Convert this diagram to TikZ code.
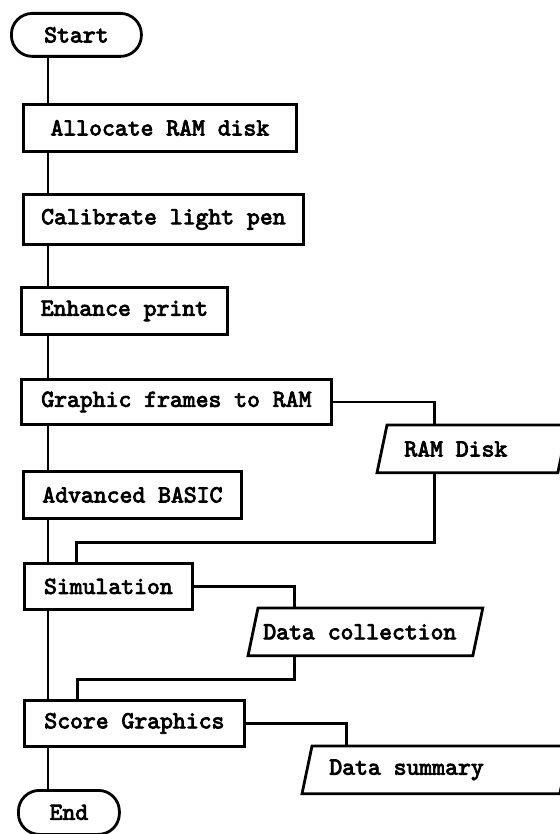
\documentclass[tikz,border=0pt]{standalone}
\usepackage{fontspec}
\newfontfamily\chartfont{lmmono10-regular.otf}[FakeBold=3.4]
\begin{document}
\begin{tikzpicture}[x=1pt, y=-1pt, line width=2.8pt,
  every node/.style={font=\chartfont\fontsize{24.5}{28}\selectfont, anchor=north west},
  procbox/.style={draw, rectangle, inner sep=0pt},
  termbox/.style={draw, rectangle, rounded corners=21pt, inner sep=0pt},
  iobox/.style={rectangle, align=flush left, inner ysep=0pt, inner xsep=26pt, minimum height=45pt}]
  \useasboundingbox (0,0) rectangle (559,834);
  \coordinate (spine) at (48,0);
  \node[termbox, minimum width=130pt, minimum height=43pt] (start) at (10,12) {Start};
  \node[procbox, minimum width=273pt, minimum height=47pt] (alloc) at (22,103) {Allocate RAM disk};
  \node[procbox, minimum width=280pt, minimum height=50pt] (calib) at (22,193) {Calibrate light pen};
  \node[procbox, minimum width=206pt, minimum height=47pt] (enhance) at (20,286) {Enhance print};
  \node[procbox, minimum width=310pt, minimum height=45pt] (frames) at (20,378) {Graphic frames to RAM};
  \node[iobox, text width=126pt] (ramdisk) at (377,425) {RAM Disk};
  \node[procbox, minimum width=218pt, minimum height=47pt] (basic) at (22,470) {Advanced BASIC};
  \node[procbox, minimum width=168pt, minimum height=46pt] (sim) at (23,562) {Simulation};
  \node[iobox, text width=194pt, inner xsep=14pt] (datacoll) at (248,608) {Data collection};
  \node[procbox, minimum width=220pt, minimum height=46pt] (score) at (23,699) {Score Graphics};
  \node[iobox, text width=203pt] (datasum) at (302,746) {Data summary};
  \node[termbox, minimum width=101pt, minimum height=44pt] (finish) at (17,789) {End};
  \foreach \n in {ramdisk, datacoll, datasum}
    \draw (\n.south west) -- ([xshift=10pt]\n.north west) -- ([xshift=10pt]\n.north east) -- (\n.south east) -- cycle;
  \foreach \a/\b in {start/alloc, alloc/calib, calib/enhance, enhance/frames, frames/basic, basic/sim, sim/score, score/finish}
    \draw (\a.south -| spine) -- (\b.north -| spine);
  \draw (frames.east) -| ([xshift=-33pt]ramdisk.north);
  \draw ([xshift=-33pt]ramdisk.south) -- ++(0,70) -| ([xshift=-32pt]sim.north);
  \draw (sim.east) -| ([xshift=-66pt]datacoll.north);
  \draw ([xshift=-66pt]datacoll.south) -- ++(0,24) -| ([xshift=-57pt]score.north);
  \draw (score.east) -| ([xshift=-84.5pt]datasum.north);
\end{tikzpicture}
\end{document}
